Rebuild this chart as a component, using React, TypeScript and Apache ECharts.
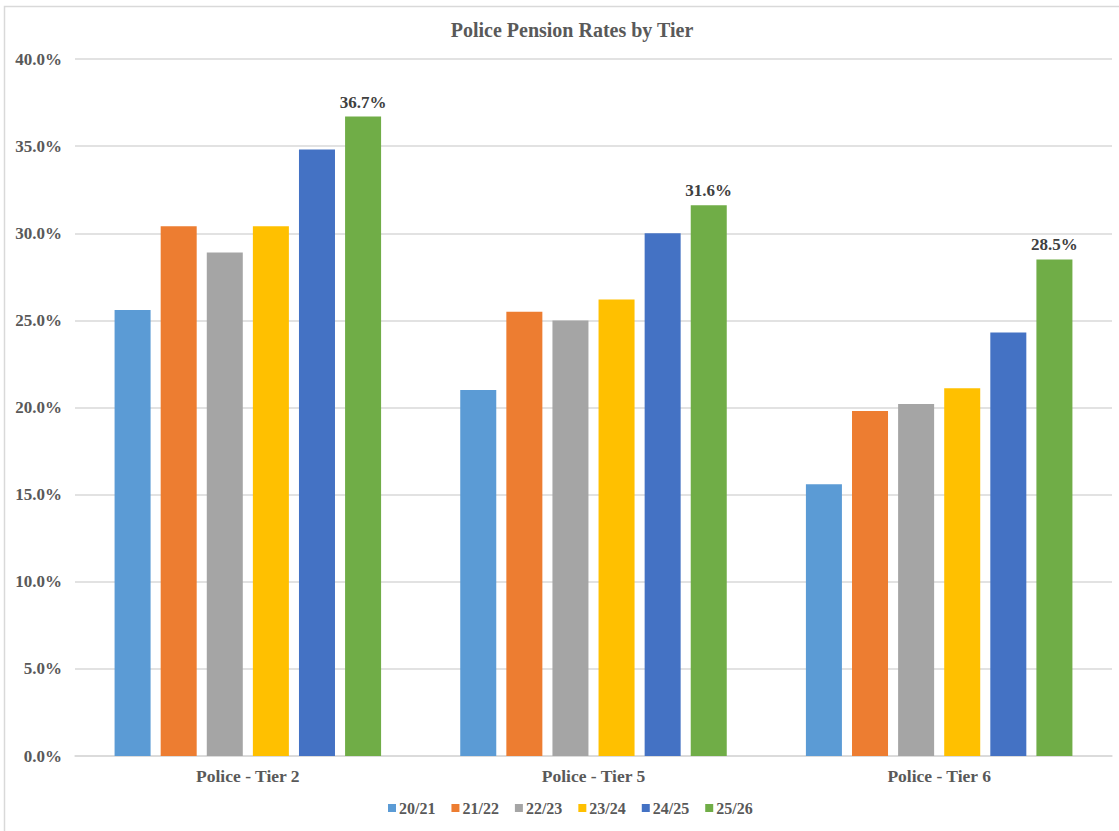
import React, { useEffect, useRef } from "react";
import * as echarts from "echarts";

const categories = ["Police - Tier 2", "Police - Tier 5", "Police - Tier 6"];
const seriesNames = ["20/21", "21/22", "22/23", "23/24", "24/25", "25/26"];
const colors = ["#5b9bd5", "#ed7d31", "#a5a5a5", "#ffc000", "#4472c4", "#70ad47"];
const rates2021 = [25.6, 21.0, 15.6];
const rates2122 = [30.4, 25.5, 19.8];
const rates2223 = [28.9, 25.0, 20.2];
const rates2324 = [30.4, 26.2, 21.1];
const rates2425 = [34.8, 30.0, 24.3];
const rates2526 = [36.7, 31.6, 28.5];
const allRates = [rates2021, rates2122, rates2223, rates2324, rates2425, rates2526];

const FONT = "'Liberation Serif', 'Times New Roman', serif";
const TEXT = "#595959";

export default function App() {
  const ref = useRef<HTMLDivElement>(null);

  useEffect(() => {
    if (!ref.current) return;
    const chart = echarts.init(ref.current, undefined, { renderer: "svg" });
    const lastIdx = seriesNames.length - 1;
    chart.setOption({
      animation: false,
      backgroundColor: "#ffffff",
      graphic: [
        {
          type: "rect",
          shape: { x: 4.5, y: 6.5, width: 1130, height: 840 },
          style: { fill: "none", stroke: "#d9d9d9", lineWidth: 1.5 },
          silent: true,
        },
      ],
      title: {
        text: "Police Pension Rates by Tier",
        left: 567,
        top: 15,
        textAlign: "center",
        textStyle: { fontFamily: FONT, fontSize: 20, fontWeight: "bold", color: TEXT },
      },
      legend: {
        data: seriesNames,
        bottom: 10,
        left: 383,
        icon: "rect",
        itemWidth: 8,
        itemHeight: 8,
        itemGap: 16,
        textStyle: { fontFamily: FONT, fontSize: 16, fontWeight: "bold", color: TEXT, padding: [0, 0, 0, -2] },
      },
      grid: { left: 75, right: 7, top: 59, bottom: 75, containLabel: false },
      xAxis: {
        type: "category",
        data: categories,
        axisLine: { lineStyle: { color: "#d9d9d9", width: 1.5 } },
        axisTick: { show: false },
        axisLabel: { fontFamily: FONT, fontSize: 17.5, fontWeight: "bold", color: TEXT, margin: 11 },
      },
      yAxis: {
        type: "value",
        min: 0,
        max: 40,
        interval: 5,
        axisLine: { show: false },
        axisTick: { show: false },
        splitLine: { lineStyle: { color: "#d9d9d9", width: 1.5 } },
        axisLabel: {
          fontFamily: FONT,
          fontSize: 17,
          fontWeight: "bold",
          color: TEXT,
          margin: 13,
          formatter: (v: number) => v.toFixed(1) + "%",
        },
      },
      series: seriesNames.map((name, i) => ({
        name,
        type: "bar",
        data: allRates[i],
        barGap: "28%",
        barCategoryGap: "22.9%",
        itemStyle: { color: colors[i] },
        label: {
          show: i === lastIdx,
          position: "top",
          distance: 6,
          fontFamily: FONT,
          fontSize: 17,
          fontWeight: "bold",
          color: "#404040",
          formatter: (p: any) => p.value.toFixed(1) + "%",
        },
      })),
    });
    return () => chart.dispose();
  }, []);

  return (
    <div
      ref={ref}
      style={{ position: "fixed", left: 0, top: 0, width: 1119, height: 831 }}
    />
  );
}
